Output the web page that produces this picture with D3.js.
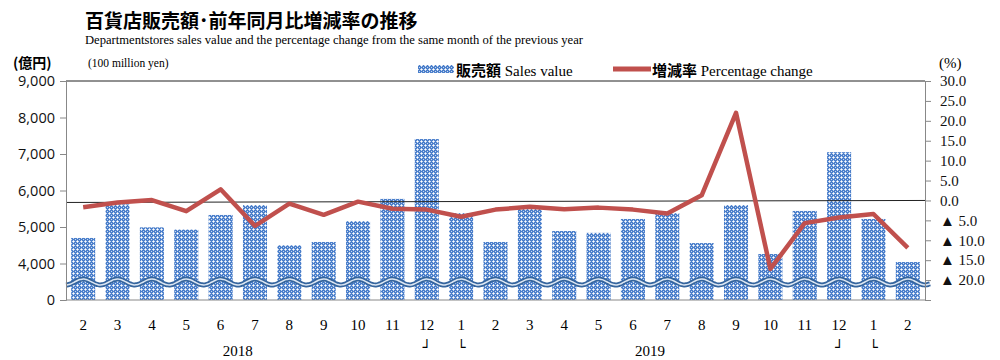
<!DOCTYPE html>
<html>
<head>
<meta charset="utf-8">
<script src="https://cdn.jsdelivr.net/npm/d3@7"></script>
<style>
  body { margin: 0; background: #fff; }
  svg { display: block; }
</style>
</head>
<body>
<script>
// months Feb 2018 .. Feb 2020
var months = ["2","3","4","5","6","7","8","9","10","11","12","1","2","3","4","5","6","7","8","9","10","11","12","1","2"];
// sales value (100 million yen)
var sales = [4700, 5620, 4990, 4930, 5330, 5600, 4500, 4590, 5160, 5770, 7410, 5380,
             4590, 5550, 4890, 4840, 5220, 5380, 4560, 5600, 4260, 5440, 7050, 5220, 4040];
// percentage change from the same month of the previous year
var change = [-1.7, -0.5, 0.1, -2.7, 2.8, -6.4, -0.8, -3.6, -0.3, -2.1, -2.3, -4.1,
              -2.3, -1.6, -2.2, -1.8, -2.3, -3.3, 1.3, 22.0, -17.2, -5.7, -4.3, -3.4, -11.9];
var leftTicks = [3000, 4000, 5000, 6000, 7000, 8000, 9000];
var rightTicks = [-25, -20, -15, -10, -5, 0, 5, 10, 15, 20, 25, 30];
var years = [{label: "2018", at: 4.5}, {label: "2019", at: 16.5}];
var brackets = [{label: "┘", at: 10}, {label: "└", at: 11}, {label: "┘", at: 22}, {label: "└", at: 23}];

var W = 1000, H = 360;
var plotL = 66, plotR = 925, plotT = 81, plotB = 300;

var svg = d3.select("body").append("svg")
    .attr("width", W)
    .attr("height", H);

// bar fill: blue with white crosses
var defs = svg.append("defs");
var pat = defs.append("pattern")
    .attr("id", "dots")
    .attr("patternUnits", "userSpaceOnUse")
    .attr("width", 4)
    .attr("height", 4);
pat.append("rect").attr("width", 4).attr("height", 4).attr("fill", "#4b7fcb");
[[1, 1], [0, 1], [2, 1], [1, 0], [1, 2], [3, 3]].forEach(function(p) {
    pat.append("rect").attr("x", p[0]).attr("y", p[1]).attr("width", 1).attr("height", 1)
        .attr("fill", p[0] === 1 && p[1] === 1 ? "#ffffff" : "#c9d9f0");
});

var idx = d3.range(months.length);
var x = d3.scaleBand()
    .domain(idx)
    .range([plotL, plotR])
    .paddingInner(0.3)
    .paddingOuter(0.15);
var step = x.step();
var xc = function(i) { return plotL + step * (i + 0.5); };

// broken axis: bottom of the plot stands for 0 (really 3,000)
var yL = d3.scaleLinear().domain([3000, 9000]).range([plotB, plotT]);
var yR = d3.scaleLinear().domain([-25, 30]).range([plotB, plotT]);

// titles
svg.append("text")
    .attr("x", 85).attr("y", 28)
    .style("font-family", "'Noto Sans CJK JP'")
    .style("font-weight", "bold")
    .style("font-size", "19px")
    .text("百貨店販売額･前年同月比増減率の推移");
svg.append("text")
    .attr("x", 85).attr("y", 44)
    .attr("textLength", 498)
    .attr("lengthAdjust", "spacingAndGlyphs")
    .style("font-family", "'Liberation Serif'")
    .style("font-size", "12px")
    .text("Departmentstores sales value and the percentage change from the same month of the previous year");

svg.append("text")
    .attr("x", 13).attr("y", 68)
    .style("font-family", "'Noto Sans CJK JP'")
    .style("font-weight", "bold")
    .style("font-size", "14px")
    .text("(億円)");
svg.append("text")
    .attr("x", 88).attr("y", 67)
    .style("font-family", "'Liberation Serif'")
    .style("font-size", "11.5px")
    .text("(100 million yen)");
svg.append("text")
    .attr("x", 939).attr("y", 68)
    .style("font-family", "'Liberation Serif'")
    .style("font-size", "15px")
    .text("(%)");

// legend
svg.append("rect")
    .attr("x", 418).attr("y", 65)
    .attr("width", 36).attr("height", 8)
    .attr("fill", "url(#dots)");
var lg1 = svg.append("text").attr("x", 456).attr("y", 76).style("font-size", "15px");
lg1.append("tspan").style("font-family", "'Noto Sans CJK JP'").style("font-weight", "bold").text("販売額");
lg1.append("tspan").style("font-family", "'Liberation Serif'").text(" Sales value");
svg.append("line")
    .attr("x1", 613).attr("x2", 651)
    .attr("y1", 69).attr("y2", 69)
    .attr("stroke", "#c0504d")
    .attr("stroke-width", 5);
var lg2 = svg.append("text").attr("x", 652).attr("y", 76).style("font-size", "15px");
lg2.append("tspan").style("font-family", "'Noto Sans CJK JP'").style("font-weight", "bold").text("増減率");
lg2.append("tspan").style("font-family", "'Liberation Serif'").text(" Percentage change");

// frame top
svg.append("line")
    .attr("x1", plotL).attr("x2", plotR)
    .attr("y1", plotT).attr("y2", plotT)
    .attr("stroke", "#222").attr("stroke-width", 1);

// bars
svg.append("g").selectAll("rect")
    .data(sales)
    .join("rect")
    .attr("x", function(d, i) { return x(i); })
    .attr("y", function(d) { return yL(d); })
    .attr("width", x.bandwidth())
    .attr("height", function(d) { return plotB - yL(d); })
    .attr("fill", "url(#dots)");

// zero line of percentage axis
svg.append("line")
    .attr("x1", plotL).attr("x2", plotR)
    .attr("y1", yR(0) + 2).attr("y2", yR(0))
    .attr("stroke", "#222").attr("stroke-width", 1);

// axis break wave
var waveY = 282;
var wave = d3.line()
    .x(function(d) { return d; })
    .y(function(d) { return waveY + 3 * Math.sin((d - plotL) / step * 2 * Math.PI + Math.PI / 2); })
    .curve(d3.curveBasis);
var wx = d3.range(plotL, 931, 2);
svg.append("path").attr("d", wave(wx)).attr("fill", "none")
    .attr("stroke", "#35659e").attr("stroke-width", 5);
svg.append("path").attr("d", wave(wx)).attr("fill", "none")
    .attr("stroke", "#dde7f3").attr("stroke-width", 1.5);

// line
var line = d3.line()
    .x(function(d, i) { return xc(i); })
    .y(function(d) { return yR(d); });
svg.append("path")
    .datum(change)
    .attr("d", line)
    .attr("fill", "none")
    .attr("stroke", "#c0504d")
    .attr("stroke-width", 4.5)
    .attr("stroke-linejoin", "round");

// left axis
var gL = svg.append("g")
    .attr("transform", "translate(" + plotL + ",0)")
    .call(d3.axisLeft(yL).tickValues(leftTicks).tickSize(6).tickPadding(5)
        .tickFormat(function(d) { return d === 3000 ? "0" : d3.format(",")(d); }));
gL.selectAll("text")
    .style("font-family", "'Open Sans'")
    .style("font-size", "14.5px")
    .attr("fill", "#111");
gL.selectAll("line, path").attr("stroke", "#888");

// right axis
var gR = svg.append("g")
    .attr("transform", "translate(" + plotR + ",0)")
    .call(d3.axisRight(yR).tickValues(rightTicks).tickSize(6).tickPadding(9)
        .tickFormat(function(d) {
            if (d === -25) return "";
            if (d < 0) return "▲ " + Math.abs(d).toFixed(1);
            return d.toFixed(1);
        }));
gR.selectAll("text")
    .style("font-family", "'Liberation Serif'")
    .style("font-size", "15px")
    .attr("fill", "#111");
gR.selectAll("line, path").attr("stroke", "#888");

// bottom axis
svg.append("line")
    .attr("x1", plotL).attr("x2", plotR)
    .attr("y1", plotB).attr("y2", plotB)
    .attr("stroke", "#888");
svg.append("g").selectAll("text")
    .data(months)
    .join("text")
    .attr("x", function(d, i) { return xc(i); })
    .attr("y", 330)
    .attr("text-anchor", "middle")
    .style("font-family", "'Liberation Serif'")
    .style("font-size", "15px")
    .text(function(d) { return d; });
svg.append("g").selectAll("text")
    .data(years)
    .join("text")
    .attr("x", function(d) { return xc(d.at); })
    .attr("y", 356)
    .attr("text-anchor", "middle")
    .style("font-family", "'Liberation Serif'")
    .style("font-size", "15px")
    .text(function(d) { return d.label; });
svg.append("g").selectAll("text")
    .data(brackets)
    .join("text")
    .attr("x", function(d) { return xc(d.at); })
    .attr("y", 352)
    .attr("text-anchor", "middle")
    .style("font-family", "'DejaVu Sans'")
    .style("font-size", "14px")
    .text(function(d) { return d.label; });
</script>
</body>
</html>
